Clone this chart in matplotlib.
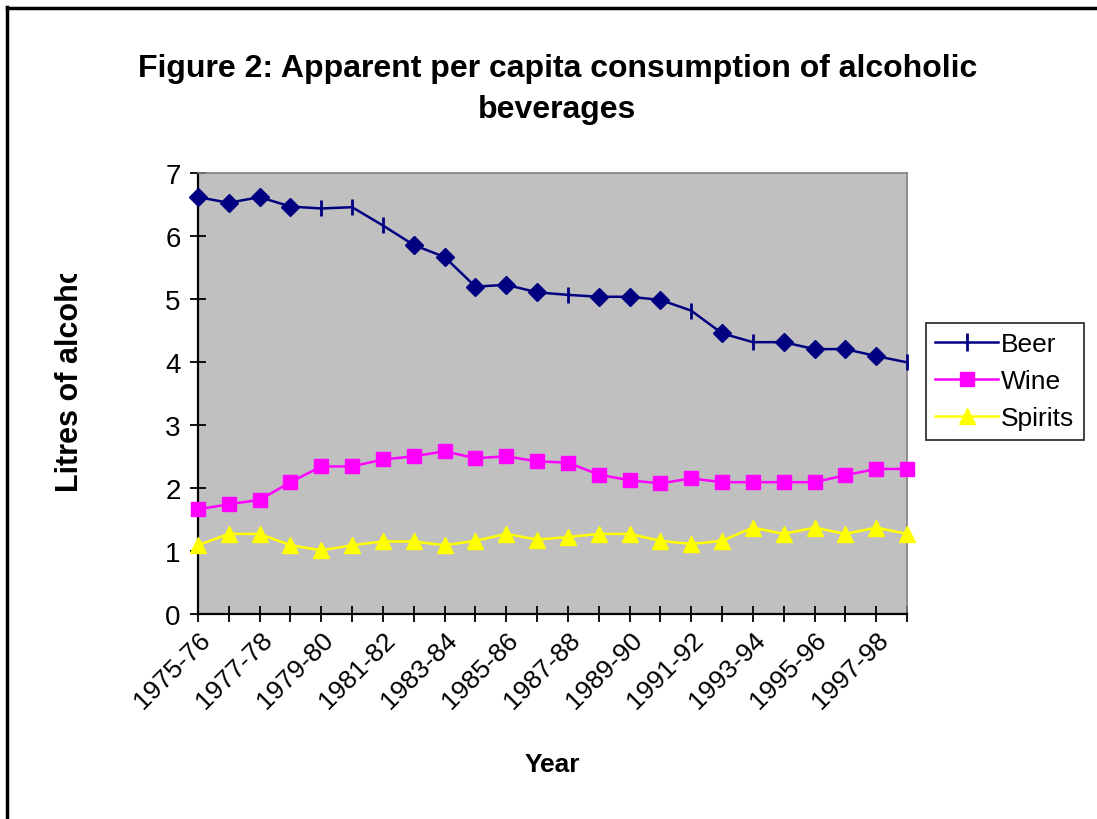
import matplotlib
matplotlib.use("Agg")
import matplotlib.pyplot as plt
from matplotlib.lines import Line2D
from matplotlib.transforms import Bbox

plt.rcParams['font.family'] = ['Liberation Sans', 'DejaVu Sans']

years = ["1975-76", "1976-77", "1977-78", "1978-79", "1979-80", "1980-81",
         "1981-82", "1982-83", "1983-84", "1984-85", "1985-86", "1986-87",
         "1987-88", "1988-89", "1989-90", "1990-91", "1991-92", "1992-93",
         "1993-94", "1994-95", "1995-96", "1996-97", "1997-98", "1998-99"]
beer = [6.61, 6.52, 6.61, 6.46, 6.43, 6.45, 6.16, 5.85, 5.66, 5.19, 5.22, 5.10,
        5.06, 5.03, 5.03, 4.98, 4.81, 4.45, 4.31, 4.31, 4.20, 4.20, 4.09, 3.99]
wine = [1.66, 1.74, 1.81, 2.09, 2.34, 2.34, 2.45, 2.50, 2.58, 2.47, 2.50, 2.42,
        2.40, 2.21, 2.12, 2.07, 2.15, 2.09, 2.09, 2.09, 2.09, 2.20, 2.30, 2.30]
spirits = [1.09, 1.27, 1.27, 1.09, 1.01, 1.09, 1.15, 1.15, 1.09, 1.16, 1.27, 1.18,
           1.22, 1.27, 1.27, 1.16, 1.11, 1.16, 1.37, 1.27, 1.37, 1.27, 1.37, 1.27]
# beer points drawn with the plain tick marker instead of a diamond
beer_tick_points = [4, 5, 6, 12, 16, 18, 23]

x = list(range(len(years)))

fig = plt.figure(figsize=(10.97, 8.2), dpi=100)
ax = fig.add_axes([0.1805, 0.25, 0.6463, 0.5384])
ax.set_facecolor('#C0C0C0')

diamond_pts = [i for i in x if i not in beer_tick_points]
ax.plot(x, beer, color='#000080', lw=1.8, marker='|', markersize=11, mew=2,
        markevery=beer_tick_points, label='Beer', clip_on=False, zorder=3)
ax.plot(diamond_pts, [beer[i] for i in diamond_pts], ls='none', marker='D',
        color='#000080', markersize=9, clip_on=False, zorder=3)
ax.plot(x, wine, color='#FF00FF', lw=1.8, marker='s', markersize=10.5,
        label='Wine', clip_on=False, zorder=3)
ax.plot(x, spirits, color='#FFFF00', lw=1.8, marker='^', markersize=12,
        label='Spirits', clip_on=False, zorder=3)

ax.set_xlim(0, 23)
ax.set_ylim(0, 7)
ax.set_yticks(range(8))
ax.set_xticks(x)
ax.set_xticklabels([y if i % 2 == 0 else '' for i, y in enumerate(years)],
                   rotation=45, ha='right', rotation_mode='anchor')
ax.tick_params(axis='both', direction='inout', length=11, width=1.3,
               labelsize=20, color='black')
ax.tick_params(axis='x', labelsize=19, pad=4)
ax.tick_params(axis='y', pad=7)

for s in ['top', 'right']:
    ax.spines[s].set_color('#808080')
    ax.spines[s].set_linewidth(1.2)
for s in ['left', 'bottom']:
    ax.spines[s].set_color('black')
    ax.spines[s].set_linewidth(1.6)

ax.set_xlabel('Year', fontsize=19, fontweight='bold', labelpad=28)

# title
fig.text(0.508, 0.891, 'Figure 2: Apparent per capita consumption of alcoholic\nbeverages',
         ha='center', va='center', fontsize=23, fontweight='bold', linespacing=1.5)

# y label, cut off at the top like the original
yl = fig.text(0.064, 0.4, 'Litres of alcohol', rotation=90, ha='center', va='bottom',
              fontsize=22, fontweight='bold', clip_on=True)
yl.set_clip_box(Bbox([[0, 0], [1097, 545]]))

# legend
handles = [
    Line2D([], [], color='#000080', lw=1.8, marker='|', markersize=13, mew=2),
    Line2D([], [], color='#FF00FF', lw=1.8, marker='s', markersize=10.5),
    Line2D([], [], color='#FFFF00', lw=1.8, marker='^', markersize=12),
]
leg = fig.legend(handles, ['Beer', 'Wine', 'Spirits'], loc='center left',
                 bbox_to_anchor=(0.844, 0.534), fontsize=19, frameon=True,
                 fancybox=False, edgecolor='black', handlelength=2.4,
                 handletextpad=0.1, labelspacing=0.5, borderpad=0.35,
                 borderaxespad=0)
leg.get_frame().set_linewidth(1.3)

# outer frame (top and left edges visible)
fig.add_artist(Line2D([0.0066, 1.0], [0.9896, 0.9896], color='black', lw=2.5,
                      transform=fig.transFigure))
fig.add_artist(Line2D([0.0068, 0.0068], [0.0, 0.9906], color='black', lw=2.5,
                      transform=fig.transFigure))

fig.savefig('out.png', dpi=100)
